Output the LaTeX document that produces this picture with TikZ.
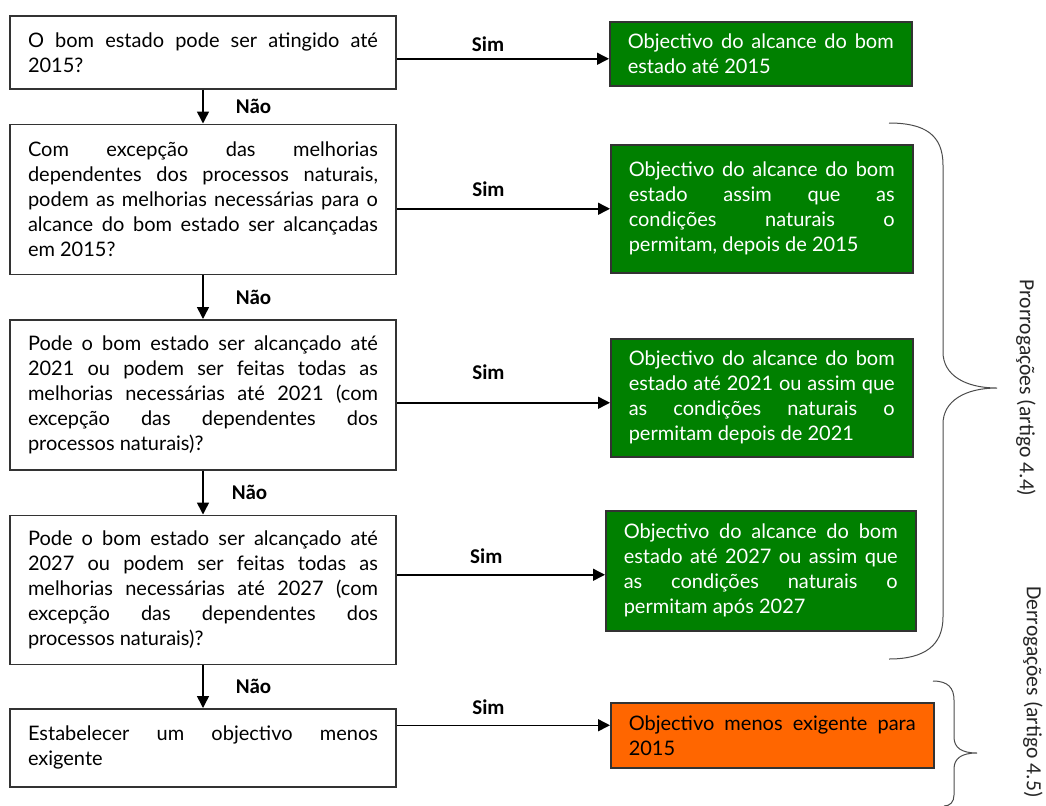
\documentclass[tikz,border=0pt]{standalone}
\usepackage{fontspec}
\setmainfont{Lato}
\newfontfamily\calibri{Carlito}
\usepackage{xcolor}
\usepackage{tikz}
\usetikzlibrary{arrows.meta, positioning}

\definecolor{verdeobj}{HTML}{008000}
\definecolor{laranja}{HTML}{FF6600}

\begin{document}
\begin{tikzpicture}[
        x=0.5pt, y=-0.5pt,
        base/.style={
            draw=black!80, line width=0.75pt, align=justify, inner xsep=9pt,
            inner ysep=3pt, font=\fontsize{10}{12.5}\selectfont
        },
        pergunta/.style={base, text width=175pt},
        meta/.style={base, anchor=north west, fill=verdeobj, text=white, text width=133pt},
        menos/.style={base, anchor=north west, fill=laranja, text width=143.5pt},
        arrow/.style={line width=0.75pt, -{Triangle[length=6pt, width=6pt]}},
        resp/.style={font=\calibri\bfseries\fontsize{10.5}{12}\selectfont, inner sep=0pt},
        chave/.style={draw=black!70, line width=0.5pt},
        lado/.style={font=\calibri\fontsize{10.8}{13}\selectfont, text=black!85, rotate=-90}
    ]
        \useasboundingbox (0,0) rectangle (1046,805);

        % Perguntas
        \node[pergunta, anchor=north, minimum height=36.5pt] (q1) at (203,15) {O bom estado pode ser atingido até\linebreak 2015?};

        \node[pergunta, below=17pt of q1, minimum height=75pt] (q2) {Com excepção das melhorias\linebreak dependentes dos processos naturais,\linebreak podem as melhorias necessárias para o\linebreak alcance do bom estado ser alcançadas\linebreak em 2015?};

        \node[pergunta, below=22pt of q2, minimum height=75pt] (q3) {Pode o bom estado ser alcançado até\linebreak 2021 ou podem ser feitas todas as\linebreak melhorias necessárias até 2021 (com\linebreak excepção das dependentes dos\linebreak processos naturais)?};

        \node[pergunta, below=22pt of q3, minimum height=74.5pt] (q4) {Pode o bom estado ser alcançado até\linebreak 2027 ou podem ser feitas todas as\linebreak melhorias necessárias até 2027 (com\linebreak excepção das dependentes dos\linebreak processos naturais)?};

        \node[pergunta, below=21.5pt of q4, minimum height=39pt] (q5) {Estabelecer um objectivo menos\linebreak exigente};

        % Objectivos
        \node[meta, minimum height=32pt] (m1) at (609,21) {Objectivo do alcance do bom\linebreak estado até 2015};

        \node[meta, minimum height=64pt] (m2) at (610,144) {Objectivo do alcance do bom\linebreak estado assim que as\linebreak condições naturais o\linebreak permitam, depois de 2015};

        \node[meta, minimum height=59pt] (m3) at (610,338) {Objectivo do alcance do bom\linebreak estado até 2021 ou assim que\linebreak as condições naturais o\linebreak permitam depois de 2021};

        \node[meta, minimum height=60pt, text width=137pt] (m4) at (605,510) {Objectivo do alcance do bom\linebreak estado até 2027 ou assim que\linebreak as condições naturais o\linebreak permitam após 2027};

        \node[menos, minimum height=32.5pt] (m5) at (610,702) {Objectivo menos exigente para\linebreak 2015};

        \coordinate (e1) at ([yshift=-2.5pt]m1.west);
        \coordinate (e2) at (m2.west);
        \coordinate (e3) at ([yshift=-2.5pt]m3.west);
        \coordinate (e4) at ([yshift=-2pt]m4.west);
        \coordinate (e5) at ([yshift=5pt]m5.west);

        % Setas
        \draw[arrow] (q1) -- (q2) node[resp, midway, right=16pt] {Não};
        \draw[arrow] (q2) -- (q3) node[resp, midway, right=16pt] {Não};
        \draw[arrow] (q3) -- (q4) node[resp, midway, right=14pt] {Não};
        \draw[arrow] (q4) -- (q5) node[resp, midway, right=16pt] {Não};

        \draw[arrow] (q1.east |- e1) -- (e1) node[resp, pos=0.43, above=3pt] {Sim};
        \draw[arrow] (q2.east |- e2) -- (e2) node[resp, pos=0.43, above=5.5pt] {Sim};
        \draw[arrow] (q3.east |- e3) -- (e3) node[resp, pos=0.43, above=11pt] {Sim};
        \draw[arrow] (q4.east |- e4) -- (e4) node[resp, pos=0.43, above=5pt] {Sim};
        \draw[arrow] (q5.east |- e5) -- (e5) node[resp, pos=0.43, above=5pt] {Sim};

        % Chavetas
        \draw[chave] (889,123) .. controls (925,123) and (943,135) .. (943,165) -- (943,352)
            .. controls (943,375) and (965,388) .. (997,388)
            .. controls (965,388) and (943,401) .. (943,424) -- (943,617)
            .. controls (943,645) and (925,659) .. (889,659);
        \draw[chave] (933,681) .. controls (948,681) and (954,688) .. (954,700) -- (954,737)
            .. controls (954,748) and (962,753) .. (977,753)
            .. controls (962,753) and (954,758) .. (954,769) -- (954,795)
            .. controls (954,802) and (950,806) .. (944,806);

        \node[lado] (prorrog) at (1026,388) {Prorrogações (artigo 4.4)};
        \node[lado] (derrog) at (1033,692) {Derrogações (artigo 4.5)};

    \end{tikzpicture}
\end{document}
